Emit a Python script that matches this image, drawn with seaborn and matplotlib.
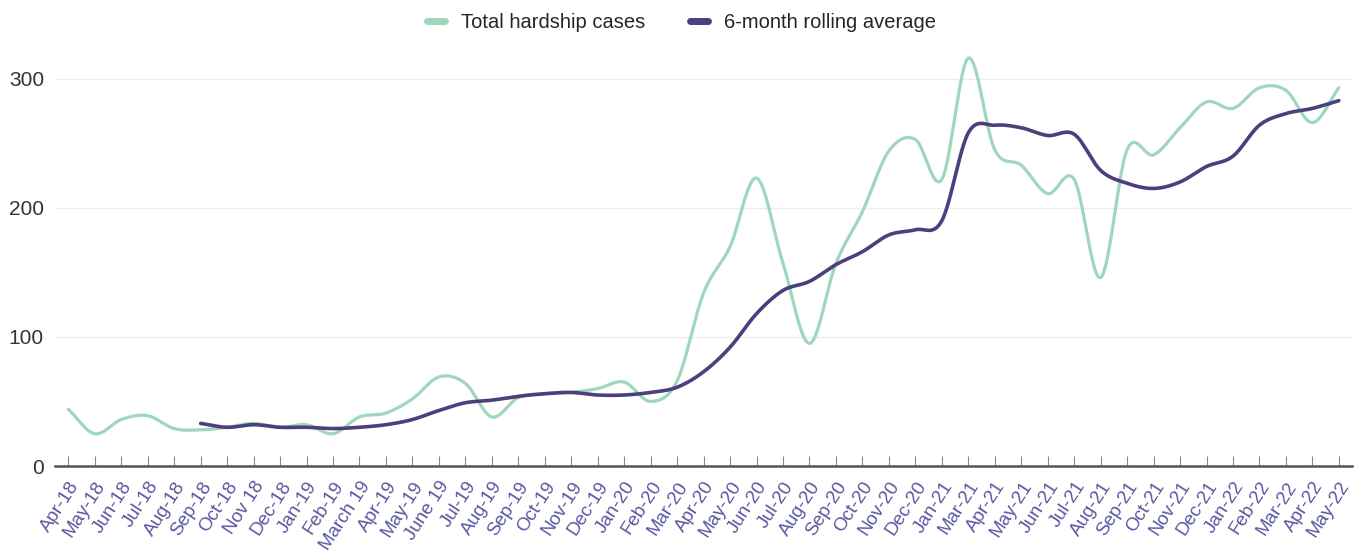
import numpy as np
import pandas as pd
import matplotlib
matplotlib.use("Agg")
import matplotlib.pyplot as plt
from matplotlib.lines import Line2D
import seaborn as sns

months = ["Apr-18", "May-18", "Jun-18", "Jul-18", "Aug-18", "Sep-18", "Oct-18", "Nov 18",
          "Dec-18", "Jan-19", "Feb-19", "March 19", "Apr-19", "May-19", "June 19", "Jul-19",
          "Aug-19", "Sep-19", "Oct-19", "Nov-19", "Dec-19", "Jan-20", "Feb-20", "Mar-20",
          "Apr-20", "May-20", "Jun-20", "Jul-20", "Aug-20", "Sep-20", "Oct-20", "Nov-20",
          "Dec-20", "Jan-21", "Mar-21", "Apr-21", "May-21", "Jun-21", "Jul-21", "Aug-21",
          "Sep-21", "Oct-21", "Nov-21", "Dec-21", "Jan-22", "Feb-22", "Mar-22", "Apr-22", "May-22"]

total_cases = [44, 25, 36, 39, 29, 28, 30, 33, 30, 32, 25, 38, 41, 52, 69, 64, 38, 53, 56, 57,
               60, 65, 50, 66, 134, 170, 223, 157, 95, 157, 197, 244, 253, 222, 316, 245, 233,
               211, 222, 146, 245, 241, 262, 282, 277, 293, 291, 266, 293]

rolling_avg = [np.nan, np.nan, np.nan, np.nan, np.nan,
               33, 30, 32, 30, 30, 29, 30, 32, 36, 43, 49, 51, 54, 56, 57, 55, 55, 57, 61,
               73, 92, 118, 136, 143, 156, 166, 179, 183, 190, 258, 264, 262, 256, 257, 229,
               219, 215, 220, 232, 240, 264, 273, 277, 283]

GREEN = "#9fd7bd"
PURPLE = "#4b3f7e"


def smooth(xs, ys, n=24):
    # catmull-rom style curve through the points (rendering only)
    xs = np.asarray(xs, dtype=float)
    ys = np.asarray(ys, dtype=float)
    ok = ~np.isnan(ys)
    xs, ys = xs[ok], ys[ok]
    m = np.zeros_like(ys)
    m[1:-1] = (ys[2:] - ys[:-2]) / 2
    m[0] = ys[1] - ys[0]
    m[-1] = ys[-1] - ys[-2]
    out_x, out_y = [], []
    for i in range(len(xs) - 1):
        t = np.linspace(0, 1, n, endpoint=False)
        h00 = 2 * t**3 - 3 * t**2 + 1
        h10 = t**3 - 2 * t**2 + t
        h01 = -2 * t**3 + 3 * t**2
        h11 = t**3 - t**2
        out_x.extend(xs[i] + t * (xs[i + 1] - xs[i]))
        out_y.extend(h00 * ys[i] + h10 * m[i] + h01 * ys[i + 1] + h11 * m[i + 1])
    out_x.append(xs[-1])
    out_y.append(ys[-1])
    return np.array(out_x), np.array(out_y)


sns.set_style("white")
plt.rcParams["font.family"] = ["Liberation Sans", "DejaVu Sans"]

fig = plt.figure(figsize=(13.63, 5.53), dpi=100)
ax = fig.add_axes([0.0404, 0.1573, 0.9516, 0.7704])

pos = np.arange(len(months))
gx, gy = smooth(pos, total_cases)
px, py = smooth(pos, rolling_avg)
sns.lineplot(data=pd.DataFrame({"x": gx, "y": gy}), x="x", y="y", sort=False,
             estimator=None, color=GREEN, linewidth=2.3, ax=ax)
sns.lineplot(data=pd.DataFrame({"x": px, "y": py}), x="x", y="y", sort=False,
             estimator=None, color=PURPLE, linewidth=2.6, ax=ax)

ax.set_xlim(-0.5, len(months) - 0.5)
ax.set_ylim(0, 330)
ax.set_yticks([0, 100, 200, 300])
ax.set_xticks(pos)
ax.set_xticklabels(months, rotation=57, ha="right", rotation_mode="anchor",
                   color="#5a58a0", fontsize=13.5)
ax.tick_params(axis="y", labelsize=15, labelcolor="#333333", length=0, pad=8)
ax.tick_params(axis="x", bottom=True, direction="in", length=7, width=0.8,
               color="#888888", pad=9)
ax.set_xlabel("")
ax.set_ylabel("")
ax.grid(axis="y", color="#eeeeee", linewidth=1)
for s in ["top", "right", "left"]:
    ax.spines[s].set_visible(False)
ax.spines["bottom"].set_color("#555555")
ax.spines["bottom"].set_linewidth(1.8)

handles = [Line2D([0], [0], color=GREEN, linewidth=5),
           Line2D([0], [0], color=PURPLE, linewidth=5)]
fig.legend(handles, ["Total hardship cases", "6-month rolling average"],
           loc="upper center", bbox_to_anchor=(0.5, 1.01), ncol=2, frameon=False,
           fontsize=14.5, handlelength=0.9, columnspacing=2.2, handletextpad=0.8)

fig.savefig("out.png", dpi=100)
